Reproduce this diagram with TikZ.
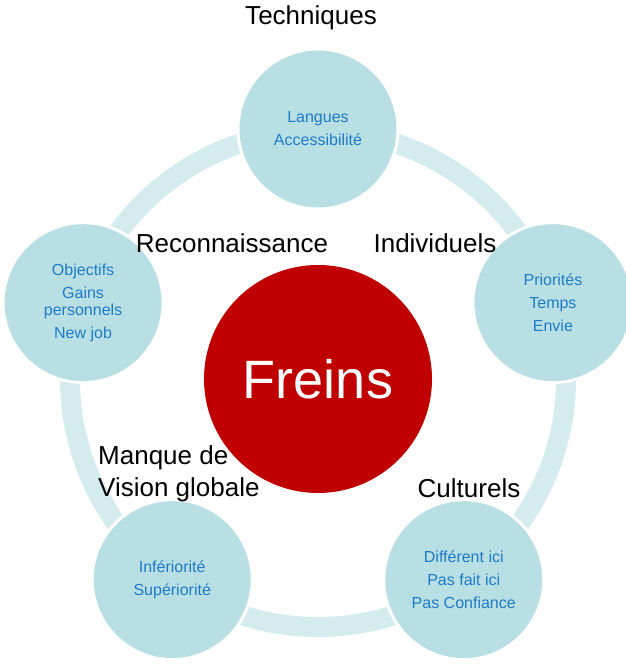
\documentclass[tikz,border=0pt]{standalone}
\usepackage{fontspec}
\setmainfont{Liberation Sans}
\usetikzlibrary{positioning}
\definecolor{ringband}{HTML}{D5ECEE}
\definecolor{bubblefill}{HTML}{B8DFE3}
\definecolor{bubbletext}{HTML}{1F7BC6}
\definecolor{corered}{HTML}{C00000}
\tikzset{
  % --- band that links the five bubbles ---
  ring/.style={draw=ringband, line width=20pt},
  % --- bubbles sitting on the band ---
  bubble/.style={circle, fill=bubblefill, draw=white, line width=3pt,
                 minimum size=160pt, inner sep=0pt, align=center,
                 text=bubbletext, font=\fontsize{16}{23}\selectfont},
  % --- central disc ---
  core/.style={circle, fill=corered, minimum size=228pt, inner sep=0pt,
               text=white, font=\fontsize{54}{60}\selectfont},
  % --- category captions ---
  caption/.style={text=black, font=\fontsize{26}{32}\selectfont},
}

\begin{document}
\begin{tikzpicture}[x=1pt,y=1pt]
  \useasboundingbox (0,0) rectangle (625,666);
  \coordinate (mid) at (318,287);

  % --- band behind everything ---
  \draw[ring] (mid) circle[radius=248pt];

  % --- centre ---
  \node[core] (freins) at (mid) {Freins};

  % --- five bubbles, one per corner of a pentagon ---
  \node[bubble] (tech) at ([shift={(90:250pt)}]mid)  {Langues\\Accessibilit\'e};
  \node[bubble] (indiv) at ([shift={(18:247pt)}]mid) {Priorit\'es\\Temps\\Envie};
  \node[bubble] (cult) at ([shift={(-54:248pt)}]mid) {Diff\'erent ici\\Pas fait ici\\Pas Confiance};
  \node[bubble] (vision) at ([shift={(-126:248pt)}]mid) {Inf\'eriorit\'e\\Sup\'eriorit\'e};
  \node[bubble] (recon) at ([shift={(162:247pt)}]mid) {Objectifs\\Gains\\[-6pt]personnels\\New job};

  % --- captions ---
  \node[caption] (techlbl) at (311,648) {Techniques};
  \node[caption] (indivlbl) at (435,423) {Individuels};
  \node[caption] (reconlbl) at (232,423) {Reconnaissance};
  \node[caption] (cultlbl) at (469,178) {Culturels};
  \node[caption, align=left, anchor=west, inner sep=0pt] (visionlbl) at (98,192)
        {Manque de\\Vision globale};
\end{tikzpicture}
\end{document}
